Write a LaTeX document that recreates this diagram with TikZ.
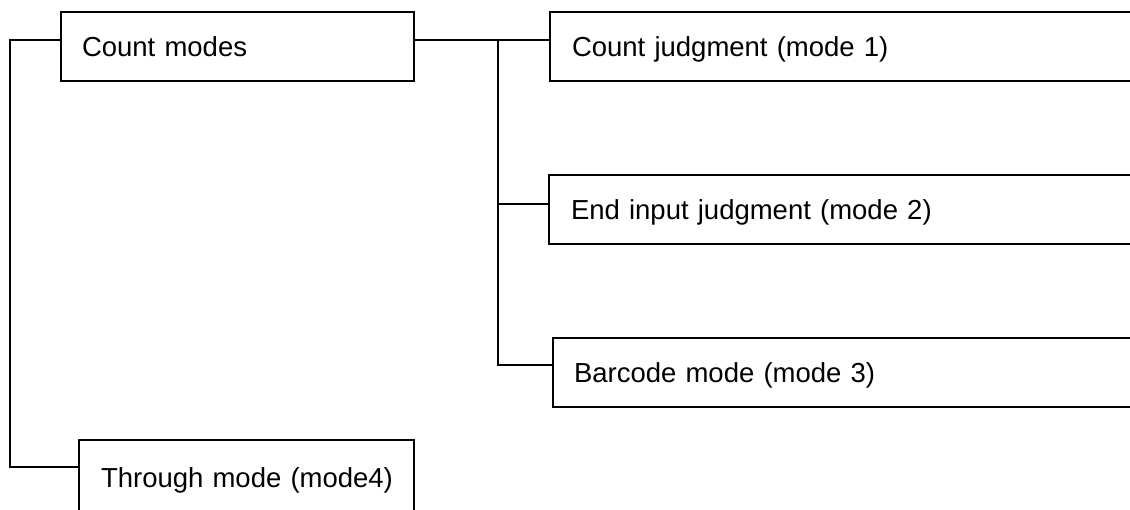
\documentclass[tikz,border=0pt]{standalone}
\usepackage{fontspec}
\setmainfont{Liberation Sans}
\begin{document}
\begin{tikzpicture}[x=1pt,y=-1pt,
  line width=2pt,
  modebox/.style={draw, rectangle, anchor=north west, minimum height=69pt,
    inner xsep=21pt, inner ysep=0pt, align=left,
    font=\fontsize{27.5pt}{33pt}\selectfont, text height=19.7pt, text depth=0pt},
  wire/.style={draw, line cap=rect}]
\clip (0,0) rectangle (1130,510);

% boxes
\node[modebox, minimum width=353pt, text width=311pt, inner xsep=20pt] (cm) at (60,11) {Count modes};
\node[modebox, minimum width=620pt, text width=578pt, inner xsep=22pt] (cj) at (549,11) {Count judgment (mode 1)};
\node[modebox, minimum width=620pt, text width=578pt, inner xsep=22pt] (ei) at (548,174) {End input judgment (mode 2)};
\node[modebox, minimum width=620pt, text width=578pt] (bc) at (552,337) {Barcode mode (mode 3)};
\node[modebox, minimum width=335pt, text width=311pt, inner xsep=12pt, minimum height=75pt] (th) at (78,439) {\hspace*{10pt}Through mode (mode4)};

% junction points
\coordinate (t1) at (498,40);
\coordinate (t2) at (498,204);
\coordinate (t3) at (498,365);
\coordinate (l1) at (10,40);
\coordinate (l2) at (10,467);

% right-hand branches
\draw (cm.east |- t1) -- (t1) -- (cj.west |- t1);
\draw (t1) -- (t3) -- (bc.west |- t3);
\draw (t2) -- (ei.west |- t2);

% left-hand branch
\draw (cm.west |- l1) -- (l1) -- (l2) -- (th.west |- l2);
\end{tikzpicture}
\end{document}
